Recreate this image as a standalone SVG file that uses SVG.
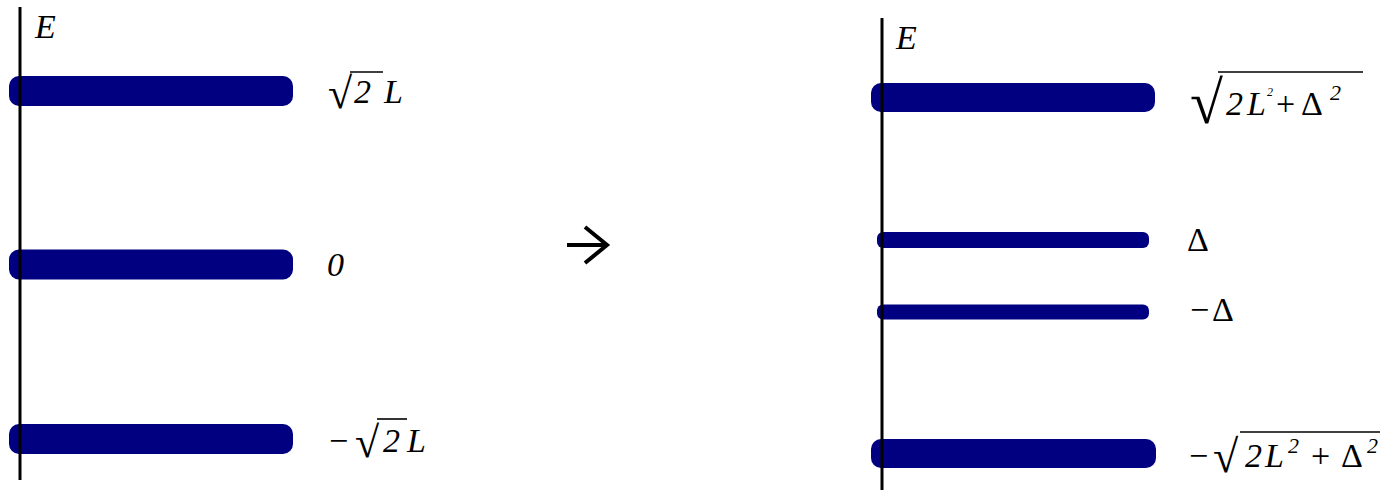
<svg xmlns="http://www.w3.org/2000/svg" width="1380" height="490" viewBox="0 0 1380 490">
  <style>
    .level { fill: #000080; }
    .axis { stroke: #000; stroke-width: 3; }
    .bar { stroke: #000; stroke-width: 1.6; }
    .m { font-family: "Liberation Serif", "Times New Roman", serif; font-size: 34px; fill: #000; }
    .i { font-style: italic; }
    .rad { font-family: "Liberation Serif", "Times New Roman", serif; fill: #000; }
  </style>

  <rect width="1380" height="490" fill="#fff"/>

  <!-- left spectrum -->
  <g id="level-left-top"><rect class="level" x="9" y="76" width="284" height="30" rx="10"/></g>
  <g id="level-left-mid"><rect class="level" x="9" y="249.5" width="284" height="30" rx="10"/></g>
  <g id="level-left-bot"><rect class="level" x="9" y="424" width="284" height="30" rx="10"/></g>
  <g id="axis-left">
    <line class="axis" x1="20" y1="7" x2="20" y2="480"/>
    <text class="m i" x="35" y="38">E</text>
  </g>

  <g id="label-left-top">
    <text class="rad" x="328" y="108" font-size="44">√</text>
    <line class="bar" x1="350" y1="72" x2="383" y2="72"/>
    <text class="m i" x="354" y="103">2</text>
    <text class="m i" x="384" y="103">L</text>
  </g>
  <g id="label-left-mid"><text class="m i" x="327" y="276">0</text></g>
  <g id="label-left-bot">
    <text class="m" x="329" y="452">−</text>
    <text class="rad" x="355" y="457" font-size="44">√</text>
    <line class="bar" x1="377" y1="419" x2="407" y2="419"/>
    <text class="m i" x="383" y="452">2</text>
    <text class="m i" x="407" y="452">L</text>
  </g>

  <!-- transition arrow -->
  <g id="arrow">
    <line x1="567" y1="245" x2="606" y2="245" stroke="#000" stroke-width="4"/>
    <polyline points="585,227 607,245 585,263" fill="none" stroke="#000" stroke-width="4"/>
  </g>

  <!-- right spectrum -->
  <g id="level-right-top"><rect class="level" x="871" y="83" width="284" height="29" rx="10"/></g>
  <g id="level-right-up"><rect class="level" x="877" y="232" width="272" height="16" rx="6"/></g>
  <g id="level-right-down"><rect class="level" x="877" y="304.5" width="272" height="15" rx="6"/></g>
  <g id="level-right-bot"><rect class="level" x="871" y="439" width="285" height="29" rx="10"/></g>
  <g id="axis-right">
    <line class="axis" x1="882" y1="18" x2="882" y2="490"/>
    <text class="m i" x="896" y="49">E</text>
  </g>

  <g id="label-right-top">
    <text class="rad" x="1190" y="123" font-size="60">√</text>
    <line class="bar" x1="1218" y1="72" x2="1363" y2="72"/>
    <text class="m i" x="1226" y="115">2</text>
    <text class="m i" x="1247" y="115">L</text>
    <text class="m i" x="1267" y="96" style="font-size:12px">2</text>
    <text class="m" x="1276" y="115">+</text>
    <text class="m" x="1301" y="115">Δ</text>
    <text class="m i" x="1330" y="100" style="font-size:22px">2</text>
  </g>
  <g id="label-right-up"><text class="m" x="1187" y="251">Δ</text></g>
  <g id="label-right-down">
    <text class="m" x="1190" y="321">−</text>
    <text class="m" x="1212" y="321">Δ</text>
  </g>
  <g id="label-right-bot">
    <text class="m" x="1189" y="467">−</text>
    <text class="rad" x="1213" y="472" font-size="46">√</text>
    <line class="bar" x1="1240" y1="432" x2="1380" y2="432"/>
    <text class="m i" x="1245" y="467">2</text>
    <text class="m i" x="1265" y="467">L</text>
    <text class="m i" x="1288" y="453" style="font-size:22px">2</text>
    <text class="m" x="1311" y="467">+</text>
    <text class="m" x="1341" y="467">Δ</text>
    <text class="m i" x="1367" y="453" style="font-size:22px">2</text>
  </g>
</svg>
